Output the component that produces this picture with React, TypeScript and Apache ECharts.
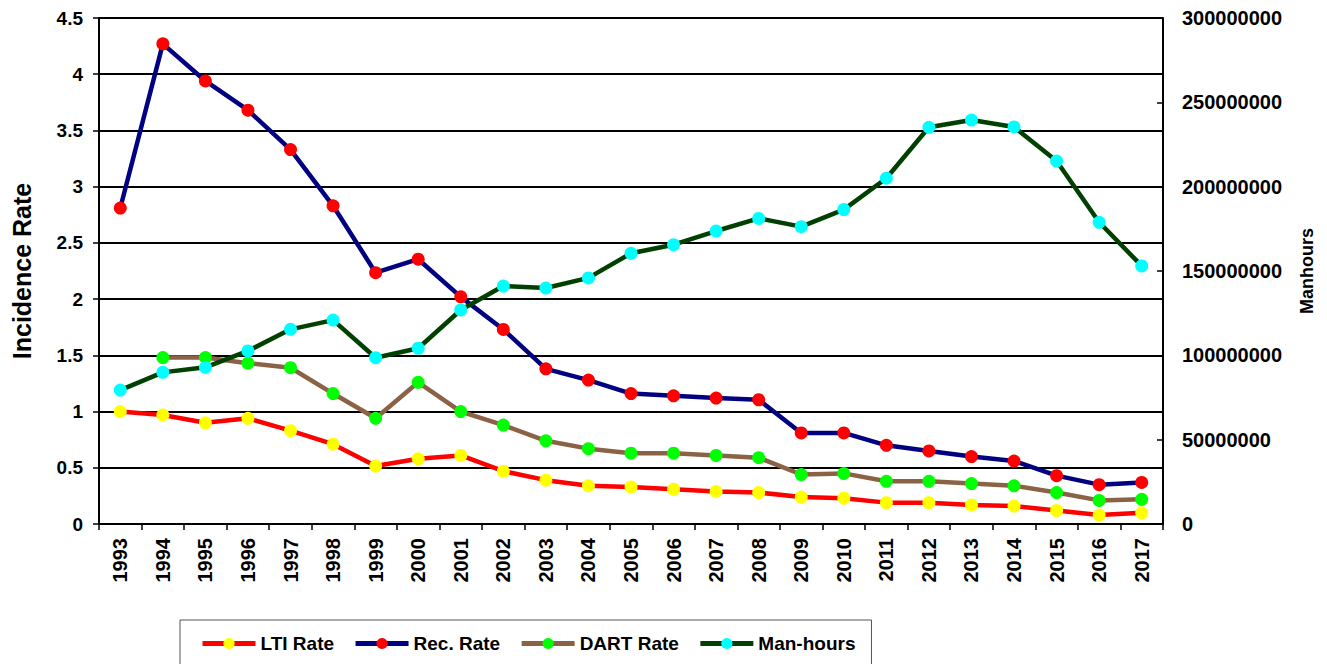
import React, { useEffect, useRef } from "react";
import * as echarts from "echarts";

const years = [
  "1993", "1994", "1995", "1996", "1997", "1998", "1999", "2000", "2001", "2002",
  "2003", "2004", "2005", "2006", "2007", "2008", "2009", "2010", "2011", "2012",
  "2013", "2014", "2015", "2016", "2017",
];

const ltiRate = [
  1.0, 0.97, 0.9, 0.94, 0.83, 0.71, 0.515, 0.58, 0.61, 0.47,
  0.39, 0.34, 0.33, 0.31, 0.29, 0.28, 0.24, 0.23, 0.19, 0.19,
  0.17, 0.16, 0.12, 0.08, 0.1,
];

const recRate = [
  2.81, 4.27, 3.94, 3.68, 3.33, 2.83, 2.235, 2.355, 2.02, 1.73,
  1.38, 1.28, 1.16, 1.14, 1.12, 1.105, 0.81, 0.81, 0.7, 0.65,
  0.6, 0.56, 0.43, 0.35, 0.37,
];

const dartRate = [
  null, 1.48, 1.48, 1.43, 1.39, 1.16, 0.94, 1.26, 1.0, 0.88,
  0.74, 0.67, 0.63, 0.63, 0.61, 0.59, 0.44, 0.45, 0.38, 0.38,
  0.36, 0.34, 0.28, 0.21, 0.22,
];

const manHours = [
  79400000, 89900000, 92900000, 102600000, 115400000, 120900000, 98600000, 104200000, 126900000, 141100000,
  139900000, 145900000, 160500000, 165600000, 173700000, 181200000, 176300000, 186400000, 205000000, 235200000,
  239500000, 235400000, 215200000, 178900000, 153000000,
];

const FONT = "'Liberation Sans', Arial, sans-serif";

export default function App() {
  const ref = useRef<HTMLDivElement>(null);

  useEffect(() => {
    if (!ref.current) return;
    const chart = echarts.init(ref.current, null, { renderer: "svg" });

    const mk = (name: string, data: any[], line: string, dot: string, yAxisIndex = 0) => ({
      name,
      type: "line",
      data,
      yAxisIndex,
      symbol: "circle",
      symbolSize: 13,
      showSymbol: true,
      connectNulls: false,
      lineStyle: { color: line, width: 4.5 },
      itemStyle: { color: dot, borderWidth: 0 },
      emphasis: { disabled: true },
    });

    chart.setOption({
      animation: false,
      backgroundColor: "#fff",
      textStyle: { fontFamily: FONT },
      grid: { left: 99, right: 164, top: 18, bottom: 140, containLabel: false },
      legend: {
        top: 620,
        left: 180,
        padding: [14, 16, 20, 20],
        borderColor: "#555",
        borderWidth: 1,
        itemWidth: 53,
        itemHeight: 14,
        itemGap: 19,
        lineStyle: { width: 5 },
        textStyle: { fontFamily: FONT, fontWeight: "bold", fontSize: 19, color: "#000" },
        data: ["LTI Rate", "Rec. Rate", "DART Rate", "Man-hours"],
      },
      xAxis: {
        type: "category",
        data: years,
        boundaryGap: true,
        axisLine: { lineStyle: { color: "#000", width: 2 } },
        axisTick: { show: true, interval: 0, length: 6, lineStyle: { color: "#000", width: 1.5 } },
        axisLabel: {
          interval: 0,
          rotate: 90,
          margin: 14,
          fontFamily: FONT,
          fontWeight: "bold",
          fontSize: 20,
          color: "#000",
        },
        splitLine: { show: false },
      },
      yAxis: [
        {
          type: "value",
          min: 0,
          max: 4.5,
          interval: 0.5,
          name: "Incidence Rate",
          nameLocation: "middle",
          nameGap: 65,
          nameTextStyle: { fontFamily: FONT, fontWeight: "bold", fontSize: 25, color: "#000" },
          axisLine: { show: true, lineStyle: { color: "#000", width: 2 } },
          axisTick: { show: true, length: 6, lineStyle: { color: "#000", width: 1.5 } },
          axisLabel: {
            margin: 16,
            fontFamily: FONT,
            fontWeight: "bold",
            fontSize: 19,
            color: "#000",
          },
          splitLine: { show: true, lineStyle: { color: "#000", width: 2 } },
        },
        {
          type: "value",
          min: 0,
          max: 300000000,
          interval: 50000000,
          position: "right",
          name: "Manhours",
          nameLocation: "middle",
          nameGap: 135,
          nameTextStyle: { fontFamily: FONT, fontWeight: "bold", fontSize: 18, color: "#000" },
          axisLine: { show: true, lineStyle: { color: "#000", width: 2 } },
          axisTick: { show: true, inside: true, length: 6, lineStyle: { color: "#000", width: 1.5 } },
          axisLabel: {
            margin: 19,
            fontFamily: FONT,
            fontWeight: "bold",
            fontSize: 20,
            color: "#000",
            formatter: (v: number) => String(Math.round(v)),
          },
          splitLine: { show: false },
        },
      ],
      series: [
        mk("LTI Rate", ltiRate, "#ff0000", "#ffff00"),
        mk("Rec. Rate", recRate, "#000080", "#ff0000"),
        mk("DART Rate", dartRate, "#8b6245", "#00ff00"),
        mk("Man-hours", manHours, "#004000", "#00ffff", 1),
      ],
    });

    return () => chart.dispose();
  }, []);

  return (
    <div
      ref={ref}
      style={{ position: "absolute", left: 0, top: 0, width: 1327, height: 664, background: "#fff" }}
    />
  );
}
